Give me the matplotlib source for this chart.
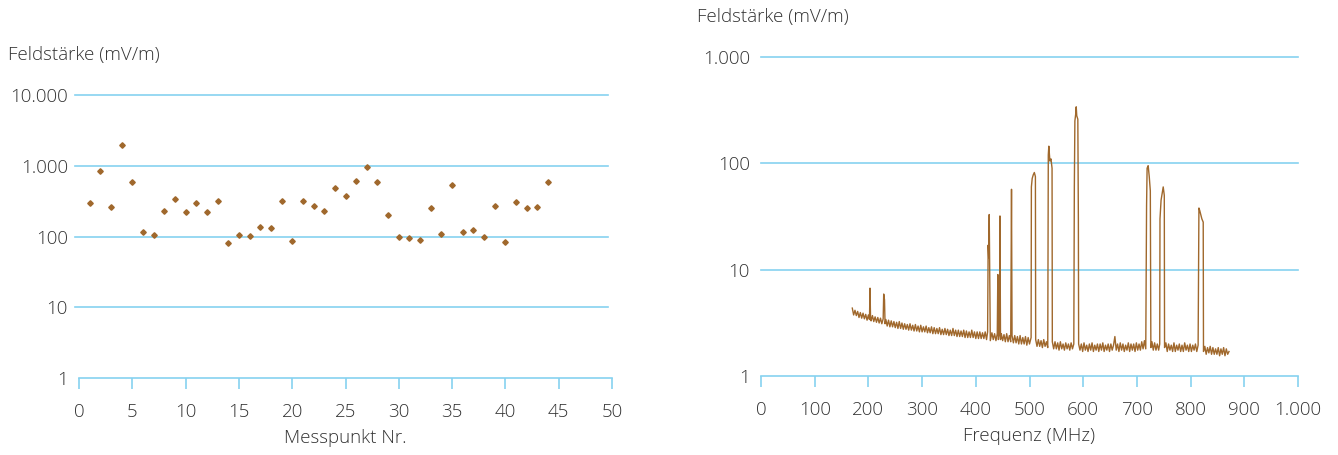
import matplotlib
matplotlib.use("Agg")
import matplotlib.pyplot as plt
from matplotlib.ticker import FixedLocator, FixedFormatter

# ---------------- data ----------------
messpunkt = list(range(1, 45))
feldstaerke_punkte = [295, 843, 259, 1985, 583, 117, 105, 229, 342, 224,
                      300, 222, 321, 80, 106, 101, 138, 131, 314, 86,
                      321, 267, 227, 489, 374, 609, 951, 595, 201, 99,
                      94, 88, 250, 110, 530, 115, 125, 98, 267, 84,
                      307, 253, 261, 595]

freq_mhz = [
    170, 172.5, 175, 177.5, 180, 182.5, 185, 187.5, 190, 192.5, 195, 197.5, 200, 202, 203, 204,
    205, 207.5, 210, 212.5, 215, 217.5, 220, 222.5, 225, 227.5, 228.5, 230, 231,
    232.5, 235, 237.5, 240, 242.5, 245, 247.5, 250, 252.5, 255, 257.5, 260, 262.5, 265, 267.5, 270,
    272.5, 275, 277.5, 280, 282.5, 285, 287.5, 290, 292.5, 295, 297.5, 300, 302.5, 305, 307.5, 310,
    312.5, 315, 317.5, 320, 322.5, 325, 327.5, 330, 332.5, 335, 337.5, 340, 342.5, 345, 347.5, 350,
    352.5, 355, 357.5, 360, 362.5, 365, 367.5, 370, 372.5, 375, 377.5, 380, 382.5, 385, 387.5, 390,
    392.5, 395, 397.5, 400, 402.5, 405, 407.5, 410, 412.5, 415, 417.5, 420,
    422, 423, 424, 425, 426, 427, 430, 432.5, 435, 437.5, 440, 441, 442, 444, 445, 446,
    447.5, 450, 452.5, 455, 457.5, 460, 462.5, 465, 466.5, 467.5,
    470, 472.5, 475, 477.5, 480, 482.5, 485, 487.5, 490, 492.5, 495, 497.5, 500,
    503, 503.5, 505, 507, 509, 511, 511.5, 514, 516.5, 519, 521.5, 524, 526.5, 529, 531.5, 534,
    535, 536, 538, 540, 542, 542.5,
    545, 547.5, 550, 552.5, 555, 557.5, 560, 562.5, 565, 567.5, 570, 572.5, 575, 577.5, 580, 582.5,
    583.5, 584.5, 586, 587, 588, 590, 591, 591.5,
    594, 596.5, 599, 601.5, 604, 606.5, 609, 611.5, 614, 616.5, 619, 621.5, 624,
    626.5, 629, 631.5, 634, 636.5, 639, 641.5, 644, 646.5, 649, 651.5, 654, 656.5, 659,
    661.5, 664, 666.5, 669, 671.5, 674, 676.5, 679, 681.5, 684, 686.5, 689,
    691.5, 694, 696.5, 699, 701.5, 704, 706.5, 709, 711.5, 714, 716.5,
    718, 719, 721, 723, 725, 726, 728, 730.5, 733, 735.5, 738, 740.5, 742.5,
    743, 745, 747, 749, 751, 751.5,
    754, 756.5, 759, 761.5, 764, 766.5, 769, 771.5, 774, 776.5, 779, 781.5, 784,
    786.5, 789, 791.5, 794, 796.5, 799, 801.5, 804, 806.5, 809, 811.5, 814,
    815.5, 817, 819, 821, 823.5, 824,
    826.5, 829, 831.5, 834, 836.5, 839, 841.5, 844, 846.5, 849,
    851.5, 854, 856.5, 859, 861.5, 864, 866.5, 869, 871.5]
level_mvm = [
    4.35, 3.75, 4.15, 3.7, 4.05, 3.55, 3.95, 3.5, 3.9, 3.45, 3.8, 3.35, 3.75, 3.4, 6.7, 3.5,
    3.3, 3.7, 3.25, 3.6, 3.2, 3.55, 3.15, 3.5, 3.1, 3.45, 5.9, 5.2, 3.1,
    3.4, 2.95, 3.35, 2.9, 3.3, 2.9, 3.25, 2.85, 3.2, 2.8, 3.25, 2.8, 3.15, 2.75, 3.1, 2.75,
    3.05, 2.7, 3.1, 2.7, 3.0, 2.65, 3.05, 2.65, 2.95, 2.6, 3.0, 2.6, 2.9, 2.6, 2.95, 2.55,
    2.85, 2.55, 2.9, 2.5, 2.85, 2.5, 2.8, 2.5, 2.85, 2.45, 2.75, 2.45, 2.8, 2.45, 2.75, 2.4,
    2.7, 2.4, 2.8, 2.4, 2.7, 2.35, 2.7, 2.35, 2.65, 2.35, 2.7, 2.3, 2.65, 2.3, 2.6, 2.3,
    2.7, 2.3, 2.6, 2.25, 2.6, 2.25, 2.6, 2.25, 2.55, 2.25, 2.6, 2.2,
    2.6, 17, 13, 33, 9, 2.15, 2.55, 2.2, 2.5, 2.15, 2.5, 9, 2.2, 2.5, 32, 2.2,
    2.5, 2.15, 2.45, 2.1, 2.5, 2.1, 2.4, 2.1, 57, 2.4,
    2.05, 2.4, 2.05, 2.35, 2.0, 2.4, 2.0, 2.3, 2.0, 2.35, 1.95, 2.3, 2.0,
    2.3, 60, 72, 78, 82, 75, 2.2, 1.9, 2.2, 1.9, 2.15, 1.85, 2.2, 1.9, 2.1, 1.85,
    120, 145, 105, 110, 90, 2.1,
    1.8, 2.1, 1.8, 2.05, 1.75, 2.1, 1.8, 2.0, 1.75, 2.05, 1.8, 2.0, 1.75, 2.05, 1.8, 2.0,
    60, 250, 290, 340, 280, 260, 30, 2.0,
    1.75, 2.0, 1.7, 2.05, 1.75, 1.95, 1.7, 2.0, 1.75, 2.05, 1.7, 1.95, 1.75,
    2.0, 1.7, 2.0, 1.75, 2.05, 1.7, 1.95, 1.75, 2.0, 1.7, 2.0, 1.75, 1.95, 2.35,
    1.75, 2.0, 1.7, 2.05, 1.75, 2.0, 1.7, 1.95, 1.75, 2.05, 1.7, 2.0,
    1.75, 2.0, 1.7, 2.05, 1.75, 2.0, 1.75, 2.1, 1.8, 2.15, 1.8,
    40, 90, 95, 75, 55, 1.85, 2.1, 1.75, 2.05, 1.75, 2.0, 1.75, 2.0,
    30, 45, 52, 60, 50, 1.85,
    2.05, 1.7, 2.0, 1.75, 1.95, 1.7, 2.05, 1.7, 1.95, 1.75, 2.0, 1.7, 1.95,
    1.7, 2.05, 1.75, 1.95, 1.7, 2.0, 1.7, 1.95, 1.75, 2.0, 1.7, 1.95,
    38, 36, 33, 30, 28, 1.7,
    1.9, 1.6, 1.85, 1.65, 1.9, 1.6, 1.85, 1.6, 1.8, 1.6,
    1.85, 1.55, 1.8, 1.6, 1.85, 1.55, 1.8, 1.6, 1.7]

left_yticks = [1, 10, 100, 1000, 10000]
left_ylabels = ["1", "10", "100", "1.000", "10.000"]
left_xticks = [0, 5, 10, 15, 20, 25, 30, 35, 40, 45, 50]
right_yticks = [1, 10, 100, 1000]
right_ylabels = ["1", "10", "100", "1.000"]
right_xticks = [0, 100, 200, 300, 400, 500, 600, 700, 800, 900, 1000]
right_xlabels = ["0", "100", "200", "300", "400", "500", "600", "700", "800", "900", "1.000"]

# ---------------- style ----------------
plt.rcParams['font.family'] = ['Open Sans', 'DejaVu Sans']
plt.rcParams['font.weight'] = 'light'
plt.rcParams['axes.labelweight'] = 'light'
GRID = '#86d2f0'
BROWN = '#a0682c'
TXT = '#333333'
FS = 13.5

W, H = 1338, 455
fig = plt.figure(figsize=(W / 100, H / 100), dpi=100)


def style_axes(ax):
    for s in ['left', 'right', 'top']:
        ax.spines[s].set_visible(False)
    ax.spines['bottom'].set_color(GRID)
    ax.spines['bottom'].set_linewidth(1.2)
    ax.tick_params(axis='x', direction='out', length=8, width=1.2, color=GRID,
                   labelsize=FS, labelcolor=TXT, pad=10)
    ax.tick_params(axis='y', length=0, labelsize=FS, labelcolor=TXT, pad=8)
    ax.set_yscale('log')
    ax.yaxis.set_minor_locator(FixedLocator([]))


# Left panel
ax1 = fig.add_axes([79 / W, 1 - 378 / H, 533 / W, 283 / H])
style_axes(ax1)
ax1.set_xlim(0, 50)
ax1.set_ylim(1, 10000)
for y in left_yticks[1:]:
    ax1.axhline(y, xmin=-0.008, xmax=0.992, color=GRID, lw=1.2, clip_on=False, zorder=1)
ax1.plot(messpunkt, feldstaerke_punkte, linestyle='none', marker='D', markersize=2.8,
         color=BROWN, zorder=3)
ax1.yaxis.set_major_locator(FixedLocator(left_yticks))
ax1.yaxis.set_major_formatter(FixedFormatter(left_ylabels))
ax1.set_xticks(left_xticks)
ax1.set_xlabel("Messpunkt Nr.", fontsize=FS, color=TXT, fontweight='light', labelpad=6)
fig.text(8 / W, 1 - 55 / H, "Feldstärke (mV/m)", fontsize=FS, color=TXT, va='center', ha='left')

# Right panel
ax2 = fig.add_axes([761 / W, 1 - 376 / H, 537 / W, 319 / H])
style_axes(ax2)
ax2.set_xlim(0, 1000)
ax2.set_ylim(1, 1000)
for y in right_yticks[1:]:
    ax2.axhline(y, xmin=0, xmax=1, color=GRID, lw=1.2, clip_on=False, zorder=1)
ax2.plot(freq_mhz, level_mvm, color=BROWN, lw=1.0, zorder=3)
ax2.yaxis.set_major_locator(FixedLocator(right_yticks))
ax2.yaxis.set_major_formatter(FixedFormatter(right_ylabels))
ax2.set_xticks(right_xticks)
ax2.set_xticklabels(right_xlabels)
ax2.set_xlabel("Frequenz (MHz)", fontsize=FS, color=TXT, fontweight='light', labelpad=6)
fig.text(697 / W, 1 - 17 / H, "Feldstärke (mV/m)", fontsize=FS, color=TXT, va='center', ha='left')

fig.savefig("out.png", dpi=100)
